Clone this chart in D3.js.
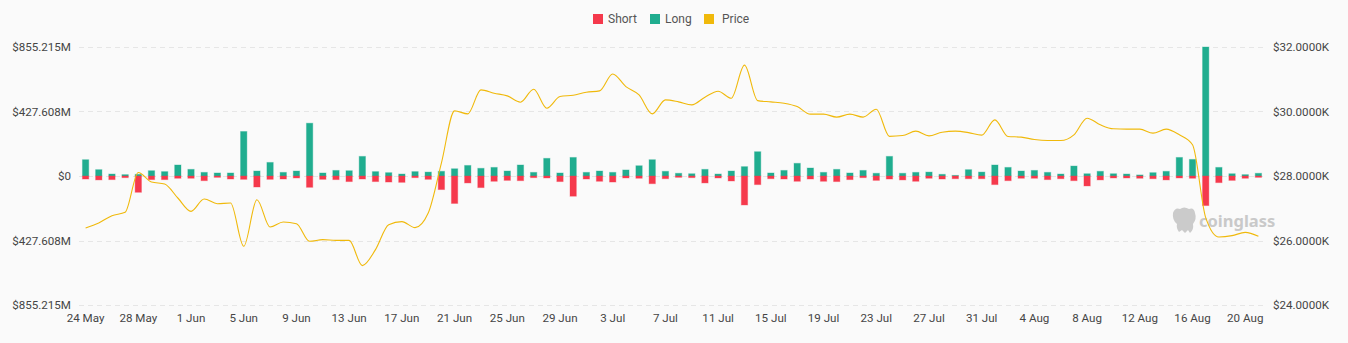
<!DOCTYPE html>
<html>
<head>
<meta charset="utf-8">
<script src="https://cdn.jsdelivr.net/npm/d3@7/dist/d3.min.js"></script>
<style>
  html, body { margin: 0; padding: 0; background: #fafafa; }
  svg { display: block; }
</style>
</head>
<body>
<svg id="chart" width="1348" height="343"></svg>
<script>
// ---------- DATA ----------
const dates = [
  "24 May","25 May","26 May","27 May","28 May","29 May","30 May","31 May",
  "1 Jun","2 Jun","3 Jun","4 Jun","5 Jun","6 Jun","7 Jun","8 Jun","9 Jun","10 Jun",
  "11 Jun","12 Jun","13 Jun","14 Jun","15 Jun","16 Jun","17 Jun","18 Jun","19 Jun","20 Jun",
  "21 Jun","22 Jun","23 Jun","24 Jun","25 Jun","26 Jun","27 Jun","28 Jun","29 Jun","30 Jun",
  "1 Jul","2 Jul","3 Jul","4 Jul","5 Jul","6 Jul","7 Jul","8 Jul","9 Jul","10 Jul",
  "11 Jul","12 Jul","13 Jul","14 Jul","15 Jul","16 Jul","17 Jul","18 Jul","19 Jul","20 Jul",
  "21 Jul","22 Jul","23 Jul","24 Jul","25 Jul","26 Jul","27 Jul","28 Jul","29 Jul","30 Jul","31 Jul",
  "1 Aug","2 Aug","3 Aug","4 Aug","5 Aug","6 Aug","7 Aug","8 Aug","9 Aug","10 Aug",
  "11 Aug","12 Aug","13 Aug","14 Aug","15 Aug","16 Aug","17 Aug","18 Aug","19 Aug","20 Aug","21 Aug"
];
// Long liquidations ($M)
const longVals = [
  108,42,13,9,11,35,29,73,44,24,20,20,295,33,90,24,33,350,
  20,37,35,130,29,22,13,29,26,31,48,70,51,57,33,73,24,117,
  20,123,24,33,24,40,68,108,31,18,15,44,13,33,62,161,20,37,
  84,53,24,44,20,37,18,130,18,24,26,11,4,42,26,73,57,33,
  37,24,13,66,15,31,15,13,7,22,31,123,110,855.215,57,15,9,18
];
// Short liquidations ($M, drawn below zero)
const shortVals = [
  20,26,24,11,108,24,24,15,15,31,9,20,22,73,22,20,13,75,
  22,24,37,20,37,40,42,11,22,90,182,46,77,35,29,31,11,13,
  37,134,20,35,40,13,15,51,18,9,11,46,13,33,192,57,18,20,
  35,20,35,37,24,11,29,20,26,35,15,20,18,18,18,57,31,15,
  15,24,18,31,66,26,13,13,15,18,26,13,15,196,44,29,15,9
];
// BTC price ($)
const priceVals = [
  26389,26544,26770,26873,28110,27813,27751,27318,26904,27287,27141,27162,25820,27265,26420,26575,26522,25975,
  26027,26005,26005,25222,25718,26491,26584,26398,26850,28400,30020,29927,30670,30567,30484,30289,30692,30103,
  30463,30506,30599,30639,31165,30773,30515,29927,30360,30298,30205,30443,30629,30412,31438,30338,30298,30258,
  30153,29918,29918,29825,29918,29825,30072,29230,29255,29390,29245,29359,29390,29346,29266,29740,29225,29205,
  29131,29100,29100,29275,29793,29587,29463,29453,29453,29328,29453,29277,28968,26709,26110,26150,26253,26129
];
const leftTicks = [-855.215, -427.608, 0, 427.608, 855.215];
const leftTickLabels = ["$855.215M", "$427.608M", "$0", "$427.608M", "$855.215M"];
const rightTicks = [24000, 26000, 28000, 30000, 32000];
const rightTickLabels = ["$24.0000K", "$26.0000K", "$28.0000K", "$30.0000K", "$32.0000K"];
const xTickLabels = ["24 May","28 May","1 Jun","5 Jun","9 Jun","13 Jun","17 Jun","21 Jun","25 Jun","29 Jun",
  "3 Jul","7 Jul","11 Jul","15 Jul","19 Jul","23 Jul","27 Jul","31 Jul","4 Aug","8 Aug","12 Aug","16 Aug","20 Aug"];
const seriesNames = ["Short", "Long", "Price"];

// ---------- STYLE ----------
const colors = { Short: "#F5394C", Long: "#20AD8F", Price: "#F0B90B" };
const font = "Roboto, 'Noto Sans', sans-serif";
const textColor = "#454545";

const svg = d3.select("#chart");
const W = 1348, H = 343;
const plot = { left: 79, right: 1265, top: 47, bottom: 305 };

svg.append("rect").attr("width", W).attr("height", H).attr("fill", "#fafafa");

const x = d3.scaleBand().domain(dates).range([plot.left, plot.right]).paddingInner(0.52).paddingOuter(0.26);
const xc = d => x(d) + x.bandwidth() / 2;
const yL = d3.scaleLinear().domain([-855.215, 855.215]).range([plot.bottom, plot.top]);
const yR = d3.scaleLinear().domain([24000, 32000]).range([plot.bottom, plot.top]);

// gridlines
const grid = svg.append("g");
grid.selectAll("line").data(leftTicks).join("line")
  .attr("x1", plot.left).attr("x2", plot.right)
  .attr("y1", d => Math.round(yL(d)) + 0.5).attr("y2", d => Math.round(yL(d)) + 0.5)
  .attr("stroke", "#e6e6e6").attr("stroke-dasharray", "5,4").attr("stroke-width", 1);

// left axis
const gL = svg.append("g").attr("transform", `translate(${plot.left - 8},0)`)
  .call(d3.axisLeft(yL).tickValues(leftTicks).tickSize(0).tickPadding(0)
    .tickFormat((d, i) => leftTickLabels[i]));
gL.select(".domain").remove();
gL.selectAll("text").attr("font-family", font).attr("font-size", 11.6).attr("fill", textColor);

// right axis
const gR = svg.append("g").attr("transform", `translate(${plot.right + 8},0)`)
  .call(d3.axisRight(yR).tickValues(rightTicks).tickSize(0).tickPadding(0)
    .tickFormat((d, i) => rightTickLabels[i]));
gR.select(".domain").remove();
gR.selectAll("text").attr("font-family", font).attr("font-size", 11.6).attr("fill", textColor);

// x axis
const gX = svg.append("g").attr("transform", `translate(0,${plot.bottom + 9})`)
  .call(d3.axisBottom(x).tickValues(xTickLabels).tickSize(0).tickPadding(0));
gX.select(".domain").remove();
gX.selectAll("text").attr("font-family", font).attr("font-size", 11.6).attr("fill", textColor).attr("dy", "0.71em");

// bars
const rows = dates.map((d, i) => ({ d, long: longVals[i], short: shortVals[i], price: priceVals[i] }));
const bars = svg.append("g");
bars.selectAll("rect.long").data(rows).join("rect").attr("class", "long")
  .attr("x", r => x(r.d)).attr("width", x.bandwidth())
  .attr("y", r => yL(r.long)).attr("height", r => yL(0) - yL(r.long))
  .attr("fill", colors.Long).attr("stroke", "rgba(32,173,143,0.35)").attr("stroke-width", 1);
bars.selectAll("rect.short").data(rows).join("rect").attr("class", "short")
  .attr("x", r => x(r.d)).attr("width", x.bandwidth())
  .attr("y", yL(0)).attr("height", r => yL(-r.short) - yL(0))
  .attr("fill", colors.Short).attr("stroke", "rgba(245,57,76,0.35)").attr("stroke-width", 1);

// watermark
const wm = svg.append("g").attr("opacity", 1);
wm.append("path")
  .attr("d", "M1173,213 q2,-6 7,-4 q4,-3 9,0 q5,-2 6,4 q2,6 -2,11 q1,6 -3,9 l-2,-3 l-3,3 l-3,-3 l-3,2 q-3,-4 -2,-8 q-5,-4 -4,-11 z")
  .attr("fill", "#cbcbcb");
wm.append("text").attr("x", 1199).attr("y", 227).attr("font-family", "'Noto Sans', sans-serif")
  .attr("font-weight", 700).attr("font-size", 16.5).attr("fill", "#c9c9c9").text("coinglass");

// price line
const line = d3.line().x(r => xc(r.d)).y(r => yR(r.price)).curve(d3.curveMonotoneX);
svg.append("path").datum(rows).attr("d", line)
  .attr("fill", "none").attr("stroke", colors.Price).attr("stroke-width", 1.1);

// legend
const legendX = [593, 650, 704];
const lg = svg.append("g");
seriesNames.forEach((n, i) => {
  lg.append("rect").attr("x", legendX[i]).attr("y", 14).attr("width", 10).attr("height", 10)
    .attr("fill", colors[n]);
  lg.append("text").attr("x", legendX[i] + (n === "Price" ? 18 : 15)).attr("y", 19).attr("dy", "0.35em")
    .attr("font-family", font).attr("font-size", 12).attr("fill", "#555").text(n);
});
</script>
</body>
</html>
